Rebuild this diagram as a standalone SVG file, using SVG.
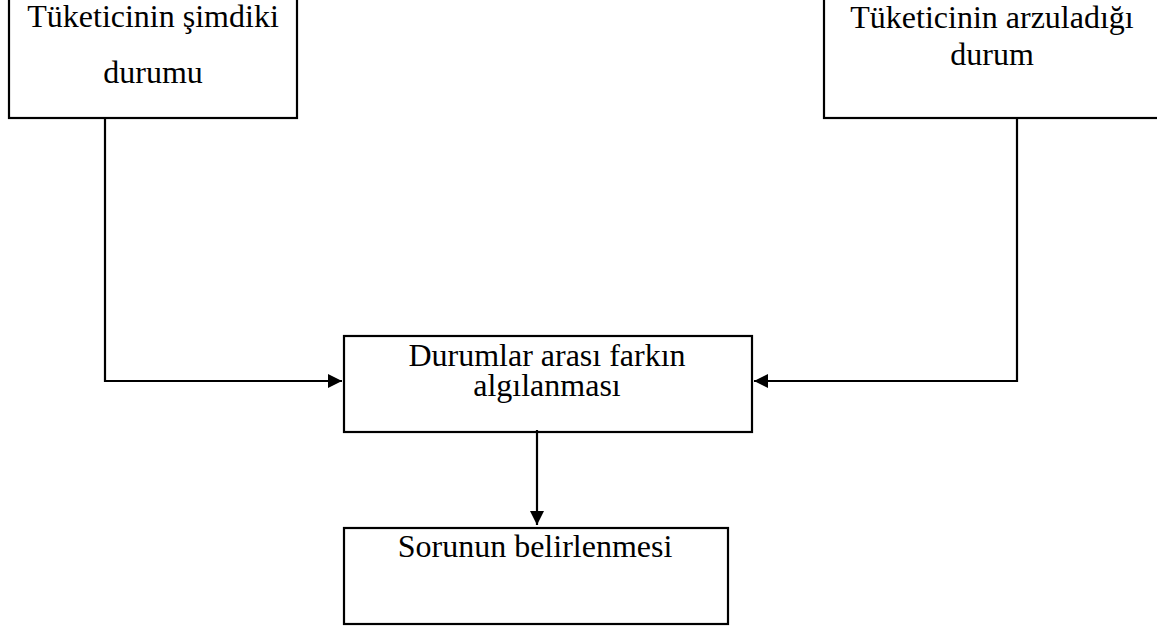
<svg xmlns="http://www.w3.org/2000/svg" width="1157" height="628" viewBox="0 0 1157 628">
  <style>
    .box { fill: #ffffff; stroke: #000000; stroke-width: 2.2; }
    .lbl { font-family: "Liberation Serif", "Times New Roman", serif; font-size: 32px; fill: #000000; text-anchor: middle; }
    .wire { fill: none; stroke: #000000; stroke-width: 2.2; }
  </style>
  <defs>
    <marker id="arrow" viewBox="0 0 10 10" refX="10" refY="5" markerUnits="userSpaceOnUse" markerWidth="14" markerHeight="14" orient="auto">
      <path d="M0,0 L10,5 L0,10 Z" fill="#000000"/>
    </marker>
  </defs>

  <rect width="1157" height="628" fill="#ffffff"/>

  <g id="node-current">
    <rect class="box" x="9" y="-10" width="288" height="128"/>
    <text class="lbl" x="153" y="27">Tüketicinin şimdiki</text>
    <text class="lbl" x="153" y="83">durumu</text>
  </g>

  <g id="node-desired">
    <rect class="box" x="824" y="-10" width="345" height="128"/>
    <text class="lbl" x="992" y="28">Tüketicinin arzuladığı</text>
    <text class="lbl" x="992" y="65">durum</text>
  </g>

  <g id="node-gap">
    <rect class="box" x="344" y="336" width="408" height="96"/>
    <text class="lbl" x="547" y="366">Durumlar arası farkın</text>
    <text class="lbl" x="547" y="396">algılanması</text>
  </g>

  <g id="node-problem">
    <rect class="box" x="344" y="528" width="384" height="96"/>
    <text class="lbl" x="535" y="557">Sorunun belirlenmesi</text>
  </g>

  <g id="connectors">
    <path class="wire" d="M105,118 V381 H342" marker-end="url(#arrow)"/>
    <path class="wire" d="M1017,118 V381 H754" marker-end="url(#arrow)"/>
    <path class="wire" d="M537,430 V525" marker-end="url(#arrow)"/>
  </g>
</svg>
